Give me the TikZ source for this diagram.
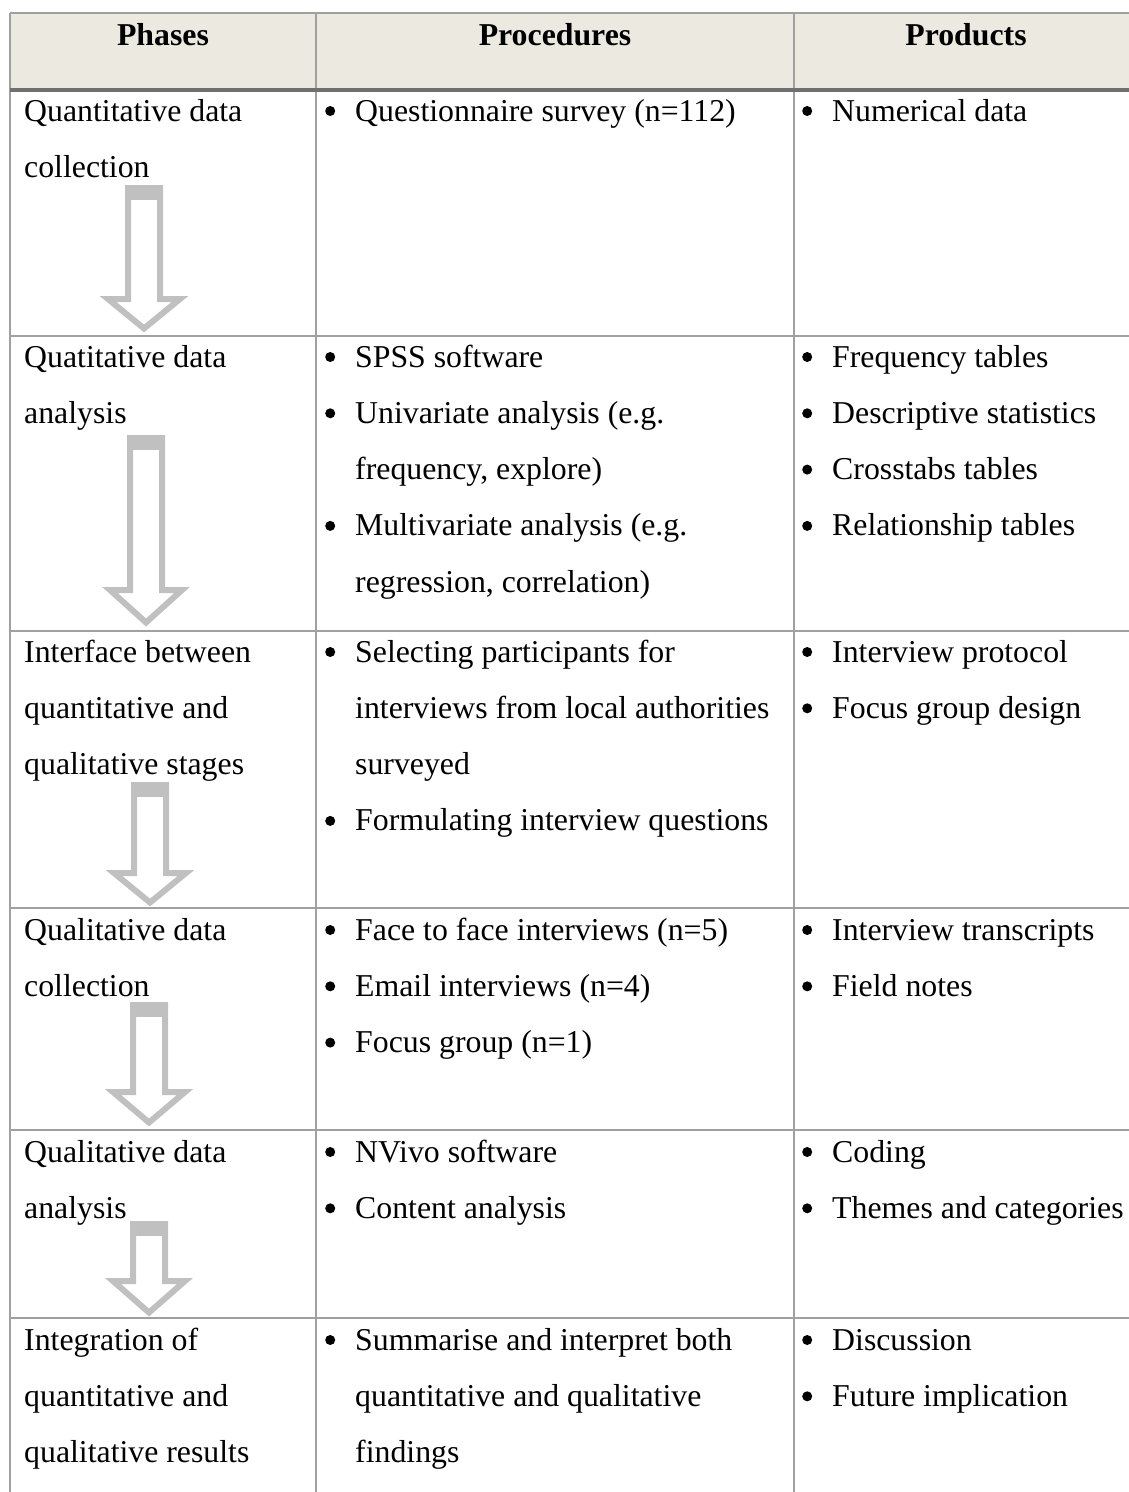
\documentclass[tikz,border=0pt]{standalone}
\usepackage{fontspec}
\setmainfont{Liberation Serif}
\definecolor{rulegray}{RGB}{160,160,160}
\definecolor{headrule}{RGB}{112,112,112}
\definecolor{headfill}{RGB}{236,234,224}
\definecolor{arrowgray}{RGB}{192,192,192}
\newcommand\cellfont{\fontsize{31.8pt}{56.3pt}\selectfont}
% stacked lines whose baseline is the first line
\newcommand\rows[1]{\begin{tabular}[t]{@{}l@{}}#1\end{tabular}}
% list bullet hanging to the left of the item text
\newcommand\itm{\llap{\tikz[baseline=0pt]\fill (0pt,10pt) circle (5pt);\hspace{20pt}}}
% block arrow between phases: centre x, top y, head y, tip y
\newcommand\flowarrow[4]{%
  \draw[phasearrow] (#1-16,#2+3) -- (#1+16,#2+3) -- (#1+16,#3+3) -- (#1+36,#3+3)
    -- (#1,#4-4.5) -- (#1-36,#3+3) -- (#1-16,#3+3) -- cycle;
  \fill[arrowgray] (#1-19,#2) rectangle (#1+19,#2+15);
}
\tikzset{
  cell/.style={anchor=base west, inner sep=0pt, font=\cellfont},
  headcell/.style={anchor=base, inner sep=0pt, font=\cellfont\bfseries},
  gridline/.style={draw=rulegray, line width=2pt},
  headline/.style={draw=headrule, line width=4pt},
  phasearrow/.style={draw=arrowgray, line width=6pt, fill=white, line join=miter, miter limit=10}
}
\begin{document}
\begin{tikzpicture}[x=1pt,y=-1pt]
\useasboundingbox (0,0) rectangle (1128,1492);
% header band
\fill[headfill] (10,13) rectangle (1140,90);
% grid
\draw[gridline] (10,13) -- (1140,13);
\foreach \yy in {336,631,908,1130,1318} \draw[gridline] (10,\yy) -- (1140,\yy);
\foreach \xx in {10,316,794} \draw[gridline] (\xx,13) -- (\xx,1495);
\draw[headline] (10,90) -- (1140,90);
% header
\node[headcell] (hphase) at (163,45) {Phases};
\node[headcell] (hproc) at (555,45) {Procedures};
\node[headcell] (hprod) at (966,45) {Products};
% phases
\node[cell] (p1) at (24,121) {\rows{Quantitative data\\collection}};
\node[cell] (p2) at (24,367) {\rows{Quatitative data\\analysis}};
\node[cell] (p3) at (24,662) {\rows{Interface between\\quantitative and\\qualitative stages}};
\node[cell] (p4) at (24,940) {\rows{Qualitative data\\collection}};
\node[cell] (p5) at (24,1162) {\rows{Qualitative data\\analysis}};
\node[cell] (p6) at (24,1350) {\rows{Integration of\\quantitative and\\qualitative results}};
% procedures
\node[cell] (c1) at (355,121) {\rows{\itm Questionnaire survey (n=112)}};
\node[cell] (c2) at (355,367) {\rows{\itm SPSS software\\\itm Univariate analysis (e.g.\\frequency, explore)\\\itm Multivariate analysis (e.g.\\regression, correlation)}};
\node[cell] (c3) at (355,662) {\rows{\itm Selecting participants for\\interviews from local authorities\\surveyed\\\itm Formulating interview questions}};
\node[cell] (c4) at (355,940) {\rows{\itm Face to face interviews (n=5)\\\itm Email interviews (n=4)\\\itm Focus group (n=1)}};
\node[cell] (c5) at (355,1162) {\rows{\itm NVivo software\\\itm Content analysis}};
\node[cell] (c6) at (355,1350) {\rows{\itm Summarise and interpret both\\quantitative and qualitative\\findings}};
% products
\node[cell] (d1) at (832,121) {\rows{\itm Numerical data}};
\node[cell] (d2) at (832,367) {\rows{\itm Frequency tables\\\itm Descriptive statistics\\\itm Crosstabs tables\\\itm Relationship tables}};
\node[cell] (d3) at (832,662) {\rows{\itm Interview protocol\\\itm Focus group design}};
\node[cell] (d4) at (832,940) {\rows{\itm Interview transcripts\\\itm Field notes}};
\node[cell] (d5) at (832,1162) {\rows{\itm Coding\\\itm Themes and categories}};
\node[cell] (d6) at (832,1350) {\rows{\itm Discussion\\\itm Future implication}};
% flow arrows down the phases column
\flowarrow{144}{185}{296}{333}
\flowarrow{146}{435}{587}{627}
\flowarrow{150}{782}{870}{907}
\flowarrow{149}{1002}{1089}{1127}
\flowarrow{149}{1221}{1278}{1317}
\end{tikzpicture}
\end{document}
